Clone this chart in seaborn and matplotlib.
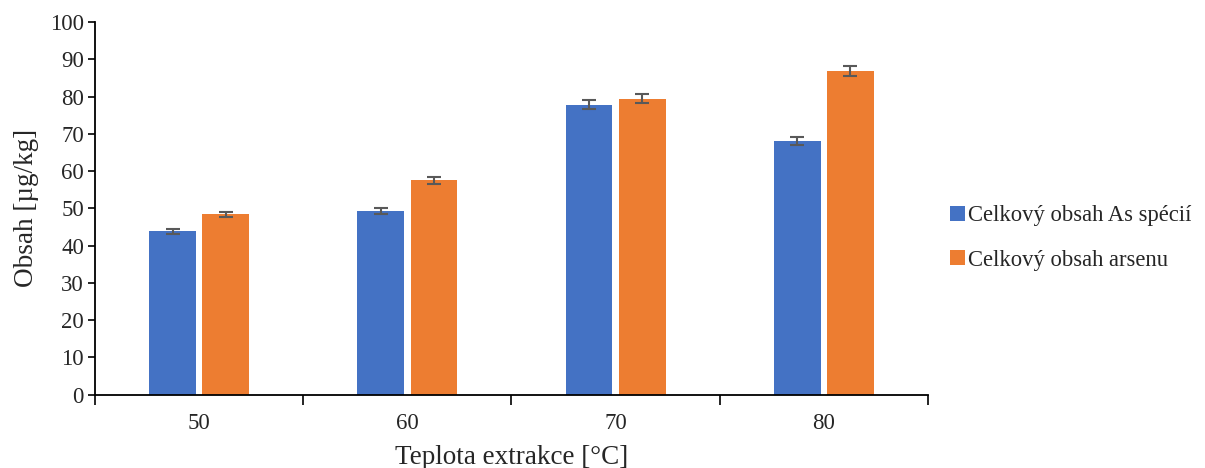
import matplotlib
matplotlib.use("Agg")
import matplotlib.pyplot as plt
import seaborn as sns
import pandas as pd
import numpy as np
from matplotlib.patches import Patch

categories = ["50", "60", "70", "80"]
series_names = ["Celkový obsah As spécií", "Celkový obsah arsenu"]
species_values = [43.8, 49.3, 77.8, 68.1]
arsenic_values = [48.4, 57.5, 79.4, 86.9]
species_err = [0.7, 0.8, 1.15, 1.05]
arsenic_err = [0.7, 0.85, 1.15, 1.3]
colors = ["#4472C4", "#ED7D31"]

df = pd.DataFrame({
    "Teplota": categories * 2,
    "Obsah": species_values + arsenic_values,
    "Serie": [series_names[0]] * 4 + [series_names[1]] * 4,
    "err": species_err + arsenic_err,
})

sns.set_style("white")
plt.rcParams["font.family"] = ["Liberation Serif", "DejaVu Serif"]
plt.rcParams["font.size"] = 16

fig = plt.figure(figsize=(12.05, 4.68), dpi=100)
ax = fig.add_axes([95 / 1205, 1 - 394.7 / 468, (928 - 95) / 1205, (394.7 - 22) / 468])

sns.barplot(data=df, x="Teplota", y="Obsah", hue="Serie", order=categories,
            hue_order=series_names, palette=colors, width=0.51, gap=0.12,
            errorbar=None, ax=ax, legend=False, saturation=1, linewidth=0)

# error bars at bar centres
for container, errs in zip(ax.containers, [species_err, arsenic_err]):
    for patch, e in zip(container, errs):
        xc = patch.get_x() + patch.get_width() / 2
        ax.errorbar(xc, patch.get_height(), yerr=e, fmt="none", ecolor="#595959",
                    elinewidth=1.5, capsize=5, capthick=1.5, zorder=5)

ax.set_ylim(0, 100)
ax.set_yticks(np.arange(0, 101, 10))
ax.set_xlim(-0.5, 3.5)
ax.set_xticks(range(4))
ax.set_xticklabels(categories)
ax.set_xticks(np.arange(-0.5, 3.6, 1), minor=True)
ax.tick_params(axis="x", which="major", length=0, pad=13, labelsize=16.5)
ax.tick_params(axis="x", which="minor", length=7, width=1.2, color="black", direction="out", bottom=True)
ax.tick_params(axis="y", length=5, width=1.2, color="black", direction="out", left=True, labelsize=16.5, pad=3)

for s in ["top", "right"]:
    ax.spines[s].set_visible(False)
for s in ["left", "bottom"]:
    ax.spines[s].set_color("black")
    ax.spines[s].set_linewidth(1.3)

ax.set_xlabel("Teplota extrakce [°C]", fontsize=19.5, labelpad=8)
ax.set_ylabel("Obsah [µg/kg]", fontsize=19.5, labelpad=8)

handles = [Patch(facecolor=c, edgecolor="none") for c in colors]
fig.legend(handles, series_names, loc="center left", bbox_to_anchor=(930 / 1205, 1 - 238 / 468),
           frameon=False, fontsize=16.3, handlelength=0.65, handleheight=0.65,
           handletextpad=0.15, labelspacing=1.05)

fig.savefig("out.png", dpi=100)
